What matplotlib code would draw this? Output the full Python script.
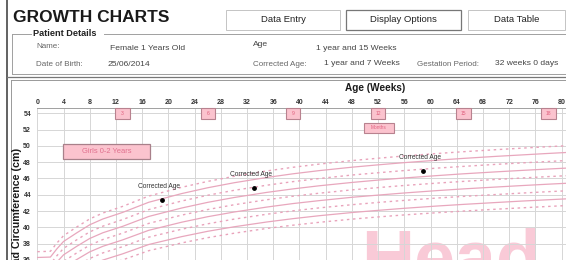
import matplotlib.pyplot as plt
from matplotlib.patches import Rectangle
from matplotlib.lines import Line2D

plt.rcParams['font.family'] = ['Liberation Sans', 'DejaVu Sans']

W, H = 566, 260

# head circumference centiles (cm) against age in weeks
weeks = [0, 2, 3, 4, 6, 8, 10, 13, 17, 22, 26, 30, 35, 39, 43, 48, 52, 56, 61, 65, 70, 74, 78, 83]
c0_4 = [30.74, 30.79, 31.81, 32.68, 33.68, 34.60, 35.26, 36.01, 37.14, 38.09, 38.74, 39.28,
        39.87, 40.27, 40.62, 41.01, 41.28, 41.53, 41.80, 42.00, 42.23, 42.40, 42.57, 42.76]
c2 = [31.45, 31.50, 32.52, 33.39, 34.40, 35.32, 35.99, 36.75, 37.90, 38.86, 39.52, 40.07,
      40.66, 41.07, 41.43, 41.82, 42.09, 42.34, 42.62, 42.82, 43.05, 43.23, 43.39, 43.59]
c9 = [32.29, 32.34, 33.36, 34.24, 35.25, 36.19, 36.87, 37.63, 38.80, 39.77, 40.44, 41.01,
      41.61, 42.03, 42.39, 42.78, 43.06, 43.31, 43.60, 43.80, 44.03, 44.21, 44.38, 44.57]
c25 = [33.08, 33.13, 34.15, 35.03, 36.05, 37.00, 37.68, 38.46, 39.64, 40.63, 41.31, 41.88,
       42.49, 42.92, 43.28, 43.69, 43.96, 44.22, 44.51, 44.72, 44.95, 45.13, 45.30, 45.50]
c50 = [33.88, 33.93, 34.95, 35.83, 36.86, 37.82, 38.51, 39.29, 40.49, 41.50, 42.19, 42.77,
       43.39, 43.82, 44.19, 44.60, 44.88, 45.14, 45.43, 45.64, 45.88, 46.06, 46.23, 46.43]
c75 = [34.68, 34.73, 35.75, 36.63, 37.67, 38.64, 39.34, 40.12, 41.34, 42.37, 43.07, 43.66,
       44.29, 44.72, 45.10, 45.51, 45.80, 46.06, 46.35, 46.57, 46.81, 46.99, 47.16, 47.36]
c91 = [35.47, 35.52, 36.54, 37.42, 38.47, 39.45, 40.15, 40.95, 42.18, 43.23, 43.94, 44.54,
       45.17, 45.61, 45.99, 46.42, 46.70, 46.97, 47.27, 47.48, 47.73, 47.91, 48.08, 48.29]
c98 = [36.31, 36.36, 37.38, 38.27, 39.32, 40.32, 41.03, 41.83, 43.08, 44.14, 44.86, 45.47,
       46.12, 46.57, 46.96, 47.38, 47.67, 47.94, 48.24, 48.46, 48.71, 48.89, 49.07, 49.28]
c99_6 = [37.02, 37.07, 38.09, 38.98, 40.04, 41.04, 41.76, 42.57, 43.84, 44.91, 45.64, 46.26,
         46.92, 47.37, 47.76, 48.19, 48.48, 48.76, 49.06, 49.28, 49.53, 49.72, 49.90, 50.10]
centiles = [c0_4, c2, c9, c25, c50, c75, c91, c98, c99_6]
dotted = [True, False, True, False, True, False, True, False, True]

month_weeks = [13, 26, 39, 52, 65, 78]
month_labels = ['3', '6', '9', '12', '15', '18']

# plotted measurements (corrected age)
pt_weeks = [19.0, 33.1, 58.9]
pt_hc = [43.3, 44.8, 46.9]

x_ticks = list(range(0, 81, 4))
y_ticks = list(range(36, 55, 2))

buttons = ['Data Entry', 'Display Options', 'Data Table']


def fx(px):
    return px / W


def fy(py):
    return 1 - py / H


def fig_line(xs, ys, **kw):
    fig.add_artist(Line2D([fx(x) for x in xs], [fy(y) for y in ys],
                          transform=fig.transFigure, **kw))


def fig_box(x0, y0, x1, y1, **kw):
    fig.add_artist(Rectangle((fx(x0), fy(y1)), fx(x1) - fx(x0), (y1 - y0) / H,
                             transform=fig.transFigure, **kw))


fig = plt.figure(figsize=(W / 100, H / 100), dpi=100)
fig.patch.set_facecolor('white')

# header
fig.text(fx(13), fy(18), 'GROWTH CHARTS', fontsize=12.5, fontweight='bold',
         va='center', color='#1a1a1a')
btn_x = [(226, 340), (346, 461), (468, 565)]
for (x0, x1), name in zip(btn_x, buttons):
    sel = name == 'Display Options'
    fig_box(x0, 10, x1, 30, fill=True, fc='white',
            ec='#777777' if sel else '#c4c4c4', lw=0.9 if sel else 0.7)
    fig.text(fx((x0 + x1) / 2), fy(19.5), name, fontsize=6.8, ha='center',
             va='center', color='#222222')

# patient details group
fig_line([7, 7], [0, 260], color='#555555', lw=1.3)
fig_line([12, 31], [34, 34], color='#a0a0a0', lw=0.7)
fig_line([104, 566], [34, 34], color='#a0a0a0', lw=0.7)
fig_line([12, 12], [34, 74], color='#a0a0a0', lw=0.7)
fig_line([12, 566], [74, 74], color='#a0a0a0', lw=0.7)
fig.text(fx(33), fy(34), 'Patient Details', fontsize=6.6, fontweight='bold',
         va='center', color='#222222')
lab = dict(fontsize=5.8, va='center', color='#666666')
val = dict(fontsize=6.1, va='center', color='#444444')
fig.text(fx(36), fy(47), 'Name:', **lab)
fig.text(fx(110), fy(48), 'Female 1 Years Old', **val)
fig.text(fx(253), fy(45), 'Age', **val)
fig.text(fx(316), fy(48), '1 year and 15 Weeks', **val)
fig.text(fx(36), fy(65), 'Date of Birth:', **lab)
fig.text(fx(108), fy(65), '25/06/2014', **val)
fig.text(fx(253), fy(65), 'Corrected Age:', **lab)
fig.text(fx(324), fy(63.5), '1 year and 7 Weeks', **val)
fig.text(fx(417), fy(65), 'Gestation Period:', **lab)
fig.text(fx(495), fy(63.5), '32 weeks 0 days', **val)

# chart panel frame
fig_line([7, 566], [77, 77], color='#777777', lw=0.9)
fig_line([11, 566], [80, 80], color='#999999', lw=0.7)
fig_line([11, 11], [80, 260], color='#999999', lw=0.7)

fig.text(fx(375), fy(88), 'Age (Weeks)', fontsize=7.2, fontweight='bold',
         ha='center', va='center', color='#1a1a1a')
fig.text(fx(17), fy(212), 'Head Circumference (cm)', rotation=90, fontsize=7.7,
         fontweight='bold', ha='center', va='center', color='#1a1a1a')

ax = fig.add_axes([fx(37.3), 0, 1 - fx(37.3), (H - 108) / H])
ax.set_xlim(0, 80.66)
ax.set_ylim(36.18, 54.64)
ax.set_facecolor('none')

ax.text(fx(361), fy(281), 'Head', transform=fig.transFigure, fontsize=53,
        fontweight='bold', color='#f9cad7', ha='left', va='baseline', zorder=0.2)

ax.set_xticks(x_ticks)
ax.set_yticks(y_ticks)
ax.grid(True, color='#d6d6d6', lw=0.7)
ax.set_axisbelow(True)
ax.xaxis.tick_top()
ax.tick_params(axis='x', length=0, pad=1.2, labelsize=5, labelcolor='#333333')
ax.tick_params(axis='y', length=0, pad=4.5, labelsize=5, labelcolor='#333333')
plt.setp(ax.get_xticklabels() + ax.get_yticklabels(), fontweight='bold')
for s in ['left', 'right', 'bottom']:
    ax.spines[s].set_visible(False)
ax.spines['top'].set_color('#a0a0a0')
ax.spines['top'].set_linewidth(0.7)

for vals, d in zip(centiles, dotted):
    if d:
        ax.plot(weeks, vals, color='#e9a3bb', lw=1.0, ls=(0, (1.8, 2.6)), zorder=2)
    else:
        ax.plot(weeks, vals, color='#e8a7bd', lw=0.9, zorder=2)

# month markers
for wk, m in zip(month_weeks, month_labels):
    ax.add_patch(Rectangle((wk - 1.1, 53.3), 2.2, 1.3, fc='#fbc3ce', ec='#b8828f',
                           lw=0.8, zorder=3, clip_on=False))
    ax.text(wk, 53.95, m, fontsize=3.6, color='#e0607e', ha='center', va='center', zorder=4)
ax.add_patch(Rectangle((52.1 - 2.3, 51.6), 4.6, 1.2, fc='#fbc3ce', ec='#b8828f',
                       lw=0.8, zorder=3))
ax.text(52.1, 52.2, 'Months', fontsize=3.4, color='#e0607e', ha='center', va='center', zorder=4)

ax.add_patch(Rectangle((3.9, 48.33), 13.3, 1.94, fc='#fbc3ce', ec='#a8808a', lw=0.9, zorder=3))
ax.text(10.55, 49.3, 'Girls 0-2 Years', fontsize=5.4, color='#e0708e',
        ha='center', va='center', zorder=4)

ax.scatter(pt_weeks, pt_hc, s=6, c='black', zorder=5)
for w, h in zip(pt_weeks, pt_hc):
    ax.annotate('Corrected Age', (w, h), xytext=(-3, 14), textcoords='offset pixels',
                fontsize=4.8, color='#333333', ha='center', va='center')

fig.savefig('out.png', dpi=100)
